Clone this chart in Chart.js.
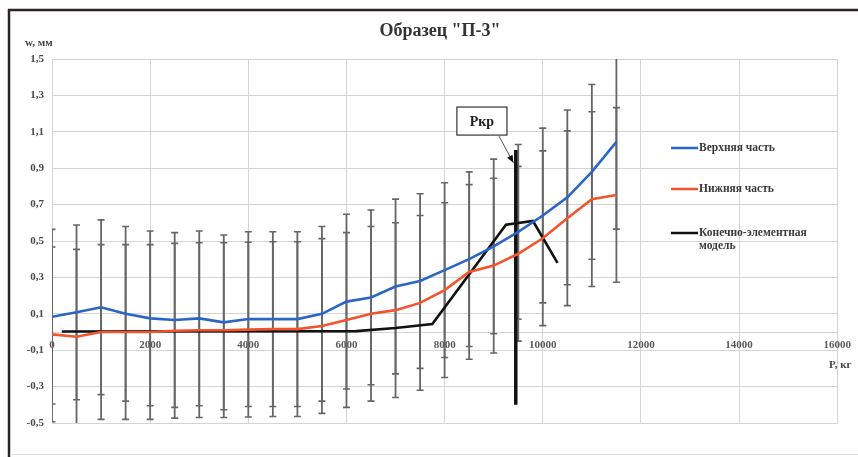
<!DOCTYPE html>
<html>
<head>
<meta charset="utf-8">
<script src="https://cdn.jsdelivr.net/npm/chart.js@4"></script>
<style>
  html, body { margin: 0; padding: 0; background: #fff; }
  #wrap { width: 858px; height: 457px; }
</style>
</head>
<body>
<div id="wrap"><canvas id="chart" width="858" height="457"></canvas></div>
<script>
// load P, kg
const loadP = [0, 500, 1000, 1500, 2000, 2500, 3000, 3500, 4000, 4500, 5000, 5500,
  6000, 6500, 7000, 7500, 8000, 8500, 9000, 9500, 10000, 10500, 11000, 11500];
// deflection w, mm
const upperW = [0.084, 0.108, 0.136, 0.10, 0.075, 0.066, 0.075, 0.053, 0.071, 0.071, 0.071, 0.10,
  0.167, 0.19, 0.25, 0.28, 0.34, 0.40, 0.47, 0.55, 0.64, 0.74, 0.88, 1.045];
const lowerW = [-0.013, -0.026, 0, 0, 0, 0.007, 0.01, 0.01, 0.013, 0.016, 0.016, 0.033,
  0.066, 0.10, 0.12, 0.16, 0.23, 0.33, 0.365, 0.43, 0.515, 0.625, 0.73, 0.753];
// error bar half-widths
const upperErr = [0.48, 0.48, 0.48, 0.48, 0.48, 0.48, 0.48, 0.48, 0.48, 0.48, 0.48, 0.48,
  0.48, 0.48, 0.48, 0.48, 0.48, 0.48, 0.48, 0.48, 0.48, 0.48, 0.48, 0.48];
const lowerErr = [0.48, 0.48, 0.48, 0.48, 0.48, 0.48, 0.48, 0.48, 0.48, 0.48, 0.48, 0.48,
  0.48, 0.48, 0.48, 0.48, 0.48, 0.48, 0.48, 0.48, 0.48, 0.48, 0.48, 0.48];
// finite element model
const modelP = [200, 6200, 7000, 7750, 9250, 9800, 10300];
const modelW = [0.003, 0.005, 0.022, 0.044, 0.59, 0.61, 0.38];
// critical load line
const pkrP = [9450, 9450];
const pkrW = [1.0, -0.40];

const chartTitle = 'Образец "П-3"';
const seriesNames = ['Верхняя часть', 'Нижняя часть', ['Конечно-элементная', 'модель']];
const xTicks = [0, 2000, 4000, 6000, 8000, 10000, 12000, 14000, 16000];
const yTicks = [-0.5, -0.3, -0.1, 0.1, 0.3, 0.5, 0.7, 0.9, 1.1, 1.3, 1.5];

const BLUE = '#2b66c6';
const RED = '#f4532b';
const SERIF = '"Liberation Serif", "DejaVu Serif", serif';

const pts = (xs, ys) => xs.map((x, i) => ({ x: x, y: ys[i] }));

// error bars behind the lines
const errorBars = {
  id: 'errorBars',
  beforeDatasetsDraw(chart) {
    const { ctx, chartArea: a, scales: { x, y } } = chart;
    ctx.save();
    ctx.beginPath();
    ctx.rect(a.left, a.top, a.right - a.left, a.bottom - a.top);
    ctx.clip();
    ctx.strokeStyle = '#666';
    [[upperW, upperErr], [lowerW, lowerErr]].forEach(([vals, errs]) => {
      vals.forEach((v, i) => {
        const px = x.getPixelForValue(loadP[i]);
        const top = y.getPixelForValue(v + errs[i]);
        const bot = y.getPixelForValue(v - errs[i]);
        ctx.lineWidth = 1.8;
        ctx.beginPath();
        ctx.moveTo(px, top);
        ctx.lineTo(px, bot);
        ctx.stroke();
        ctx.lineWidth = 1.6;
        ctx.beginPath();
        ctx.moveTo(px - 3.5, top); ctx.lineTo(px + 3.5, top);
        ctx.moveTo(px - 3.5, bot); ctx.lineTo(px + 3.5, bot);
        ctx.stroke();
      });
    });
    ctx.restore();
  }
};

// frame, title, axis names, legend, Ркр callout
const extras = {
  id: 'extras',
  beforeDraw(chart) {
    const ctx = chart.ctx;
    ctx.save();
    ctx.fillStyle = '#fff';
    ctx.fillRect(0, 0, chart.width, chart.height);
    ctx.restore();
  },
  afterDraw(chart) {
    const { ctx, scales: { x, y } } = chart;
    ctx.save();
    // outer frame
    ctx.strokeStyle = '#2a2226';
    ctx.lineWidth = 2.5;
    ctx.beginPath();
    ctx.moveTo(858, 10); ctx.lineTo(9, 10); ctx.lineTo(9, 457);
    ctx.stroke();
    ctx.strokeStyle = '#e2e2e2';
    ctx.lineWidth = 1;
    ctx.beginPath();
    ctx.moveTo(10, 454.5); ctx.lineTo(858, 454.5);
    ctx.stroke();

    // title
    ctx.fillStyle = '#333';
    ctx.font = 'bold 18px ' + SERIF;
    ctx.textAlign = 'center';
    ctx.textBaseline = 'middle';
    ctx.fillText(chartTitle, 440, 31);

    // axis names
    ctx.fillStyle = '#444';
    ctx.font = 'bold 11px ' + SERIF;
    ctx.textAlign = 'left';
    ctx.fillText('w, мм', 25, 43);
    ctx.fillText('P, кг', 829, 365);

    // legend
    const items = [
      { c: BLUE, yy: 148 },
      { c: RED, yy: 189 },
      { c: '#111', yy: 233 }
    ];
    ctx.font = 'bold 11.5px ' + SERIF;
    items.forEach((it, i) => {
      ctx.strokeStyle = it.c;
      ctx.lineWidth = 2.5;
      ctx.beginPath();
      ctx.moveTo(671, it.yy); ctx.lineTo(698, it.yy);
      ctx.stroke();
      ctx.fillStyle = '#3a3a3a';
      const name = seriesNames[i];
      const lines = Array.isArray(name) ? name : [name];
      lines.forEach((t, k) => ctx.fillText(t, 699, it.yy + k * 13));
    });

    // Ркр callout box and arrow
    const bx1 = x.getPixelForValue(8250), bx2 = x.getPixelForValue(9270);
    const by1 = y.getPixelForValue(1.236), by2 = y.getPixelForValue(1.082);
    ctx.fillStyle = '#fff';
    ctx.fillRect(bx1, by1, bx2 - bx1, by2 - by1);
    ctx.strokeStyle = '#333';
    ctx.lineWidth = 1.2;
    ctx.strokeRect(bx1, by1, bx2 - bx1, by2 - by1);
    ctx.fillStyle = '#222';
    ctx.font = 'bold 14px ' + SERIF;
    ctx.textAlign = 'center';
    ctx.fillText('Ркр', (bx1 + bx2) / 2, (by1 + by2) / 2 + 1);

    const ax1 = bx2 - 8, ay1 = by2 + 1;
    const ax2 = x.getPixelForValue(9400), ay2 = y.getPixelForValue(0.93);
    ctx.strokeStyle = '#555';
    ctx.lineWidth = 1;
    ctx.beginPath();
    ctx.moveTo(ax1, ay1); ctx.lineTo(ax2, ay2);
    ctx.stroke();
    const ang = Math.atan2(ay2 - ay1, ax2 - ax1);
    ctx.fillStyle = '#111';
    ctx.beginPath();
    ctx.moveTo(ax2, ay2);
    ctx.lineTo(ax2 - 8 * Math.cos(ang - 0.4), ay2 - 8 * Math.sin(ang - 0.4));
    ctx.lineTo(ax2 - 8 * Math.cos(ang + 0.4), ay2 - 8 * Math.sin(ang + 0.4));
    ctx.closePath();
    ctx.fill();
    ctx.restore();
  }
};

const lineDs = (label, data, color, width) => ({
  label: label,
  data: data,
  borderColor: color,
  backgroundColor: color,
  borderWidth: width,
  pointRadius: 0,
  tension: 0,
  fill: false
});

new Chart(document.getElementById('chart'), {
  type: 'line',
  data: {
    datasets: [
      lineDs('Верхняя часть', pts(loadP, upperW), BLUE, 2.6),
      lineDs('Нижняя часть', pts(loadP, lowerW), RED, 2.6),
      lineDs('Конечно-элементная модель', pts(modelP, modelW), '#111', 2.6),
      lineDs('Ркр', pts(pkrP, pkrW), '#111', 3.5)
    ]
  },
  options: {
    responsive: false,
    devicePixelRatio: 1,
    animation: false,
    layout: { padding: { top: 59, bottom: 34, right: 19, left: 0 } },
    plugins: {
      legend: { display: false },
      tooltip: { enabled: false },
      title: { display: false }
    },
    scales: {
      x: {
        type: 'linear',
        position: { y: 0 },
        min: 0,
        max: 16000,
        afterFit: (s) => { s.height = 0; },
        afterBuildTicks: (s) => { s.ticks = xTicks.map(v => ({ value: v })); },
        grid: { color: '#d4d4d4', lineWidth: 1, drawTicks: false },
        border: { display: true, color: '#d4d4d4' },
        ticks: {
          padding: 7,
          color: '#5a5a5a',
          font: { family: SERIF, size: 11, weight: 'bold' },
          callback: (v) => String(v)
        }
      },
      y: {
        type: 'linear',
        min: -0.5,
        max: 1.5,
        afterFit: (s) => { s.width = 52; },
        afterBuildTicks: (s) => { s.ticks = yTicks.map(v => ({ value: v })); },
        grid: { color: '#d4d4d4', lineWidth: 1, drawTicks: false },
        border: { display: false },
        ticks: {
          padding: 8,
          color: '#4a4a4a',
          font: { family: SERIF, size: 11, weight: 'bold' },
          callback: (v) => v.toFixed(1).replace('.', ',')
        }
      }
    }
  },
  plugins: [errorBars, extras]
});
</script>
</body>
</html>
